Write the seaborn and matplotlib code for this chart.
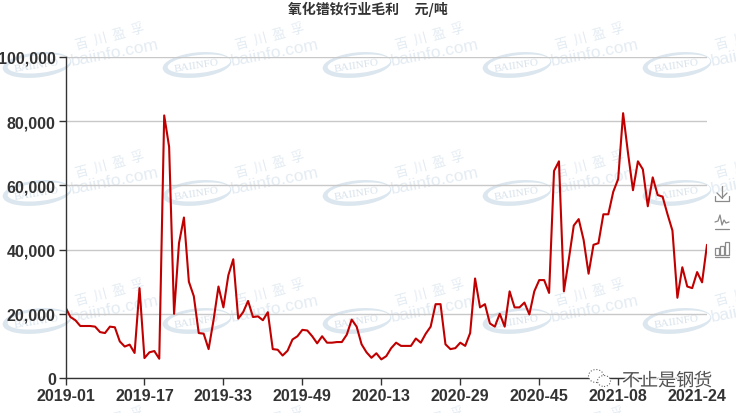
import matplotlib
matplotlib.use("Agg")
import matplotlib.pyplot as plt
import matplotlib.patheffects as pe
from matplotlib.patches import Ellipse, Rectangle
from matplotlib.lines import Line2D
from matplotlib.transforms import IdentityTransform
import numpy as np
import pandas as pd
import seaborn as sns

title = "氧化镨钕行业毛利     元/吨"
tick_labels = ["2019-01", "2019-17", "2019-33", "2019-49", "2020-13",
               "2020-29", "2020-45", "2021-08", "2021-24"]
y_ticks = [0, 20000, 40000, 60000, 80000, 100000]

# weekly margin
margin = [
    22000, 19000, 18000, 16200, 16200, 16200, 16000, 14300, 14000, 16000,
    15800, 11400, 9800, 10400, 7800, 28000, 6200, 8000, 8400, 6000,
    81800, 72000, 20000, 42000, 50000, 30000, 25500, 14000, 13800, 9000,
    18000, 28500, 22000, 32000, 37000, 18500, 20500, 24000, 19000, 19200,
    18000, 20500, 9000, 8800, 7000, 8500, 12000, 13000, 15000, 14800,
    13000, 10800, 13000, 11000, 11000, 11200, 11200, 13500, 18200, 16000,
    10500, 8000, 6300, 7700, 5800, 6800, 9300, 11000, 10000, 10000,
    10000, 12300, 11000, 13800, 16000, 23000, 23000, 10500, 9000, 9300,
    11000, 10000, 14000, 31000, 22000, 23000, 17000, 16000, 20000, 16000,
    27000, 22000, 22000, 23500, 19800, 27000, 30500, 30500, 26500, 64500,
    67500, 27000, 37000, 47500, 49500, 43000, 32500, 41500, 42000, 51000,
    51000, 58000, 62000, 82500, 70000, 58500, 67500, 65000, 53500, 62500,
    57000, 56500, 51000, 45900, 25000, 34500, 28500, 28000, 33000, 29800,
    41500,
]

df = pd.DataFrame({"week": np.arange(len(margin)), "margin": margin})

sns.set_style("white")
plt.rcParams["font.family"] = ["Liberation Sans", "Noto Sans CJK SC", "DejaVu Sans"]

fig = plt.figure(figsize=(7.36, 4.14), dpi=100)
W, H = 736, 414
ax = fig.add_axes([65.5 / W, 1 - 379 / H, (707 - 65.5) / W, (379 - 58) / H])
ax.patch.set_alpha(0)

px = IdentityTransform()
mark = "#e4ecf3"
cjk = ["Noto Sans CJK SC", "DejaVu Sans"]

# tiled watermark behind the chart
for x0 in [37, 197, 357, 517, 677]:
    for y0 in [66, 194, 322]:
        fig.add_artist(Ellipse((x0, H - y0), 69, 25, angle=6, transform=px,
                               facecolor="#dbe6ef", edgecolor="none", zorder=-3))
        fig.add_artist(Ellipse((x0 + 2, H - y0 + 1), 63, 18, angle=6, transform=px,
                               facecolor="white", edgecolor="none", zorder=-2))
        fig.text(x0, H - y0, "BAIINFO", transform=px, fontsize=8, color="#d8e3ec",
                 family="Liberation Serif", rotation=9, ha="center", va="center", zorder=-1)
for x0 in [110, 270, 430, 590, 750]:
    for y0 in [37, 165, 293, 421]:
        fig.text(x0, H - y0, "百  川  盈  孚", transform=px, fontsize=9.5, color=mark,
                 family=cjk, rotation=15, ha="center", va="center", zorder=-1)
        fig.text(x0 + 5, H - y0 - 16, "baiinfo.com", transform=px, fontsize=12.5, color=mark,
                 rotation=11, ha="center", va="center", zorder=-1)

sns.lineplot(data=df, x="week", y="margin", ax=ax, color="#c00000", linewidth=1.5,
             errorbar=None, solid_joinstyle="round", zorder=3)

ax.set_xlim(0, len(margin) - 1)
ax.set_ylim(0, 100000)
ax.set_xticks(np.arange(len(tick_labels)) * 16)
ax.set_xticklabels(tick_labels)
ax.set_yticks(y_ticks)
ax.set_yticklabels([f"{v:,}" for v in y_ticks])
ax.set_xlabel("")
ax.set_ylabel("")
ax.grid(axis="y", color="#c8c8c8", linewidth=1)
ax.set_axisbelow(True)
sns.despine(ax=ax)
for side in ["left", "bottom"]:
    ax.spines[side].set_color("#333333")
    ax.spines[side].set_linewidth(1)
    ax.spines[side].set_zorder(4)
ax.tick_params(axis="both", length=5, width=1, color="#333333", labelcolor="#333333",
               labelsize=11.5, pad=2, bottom=True, left=True)
for lab in ax.get_xticklabels() + ax.get_yticklabels():
    lab.set_fontweight("bold")

fig.text(368 / W, 1 - 9 / H, title, ha="center", va="center", fontsize=10,
         fontweight="bold", color="#333333", family=cjk)

# toolbox icons on the right
icon = "#8a8a8a"
def seg(xs, ys):
    fig.add_artist(Line2D(xs, [H - y for y in ys], transform=px, color=icon, linewidth=0.9))
seg([715, 715, 729, 729], [197, 202, 202, 197])
seg([722, 722], [187, 199])
seg([717, 722, 727], [194, 199, 194])
seg([715, 729], [230, 230])
seg([715, 718, 720, 722, 724, 726, 729], [223, 222, 216, 226, 221, 224, 223])
seg([715, 729], [258, 258])
for bx, bt in zip([715, 720, 725], [249, 247, 243]):
    fig.add_artist(Rectangle((bx, H - 256), 3.5, 256 - bt, transform=px, fill=False,
                             edgecolor=icon, linewidth=0.9))

# account stamp bottom right
fig.add_artist(Ellipse((596, H - 377), 15, 13, transform=px, facecolor="white",
                       edgecolor="#666666", linewidth=0.8, linestyle=":", zorder=5))
fig.add_artist(Ellipse((604, H - 382), 13, 11, transform=px, facecolor="white",
                       edgecolor="#666666", linewidth=0.8, linestyle=":", zorder=5))
stamp = fig.text(622, H - 382, "不止是钢货", transform=px, fontsize=13, color="#444444",
                 family=cjk, ha="left", va="center", zorder=6, alpha=0.9)
stamp.set_path_effects([pe.withStroke(linewidth=2, foreground="white")])

fig.savefig("out.png", dpi=100)
